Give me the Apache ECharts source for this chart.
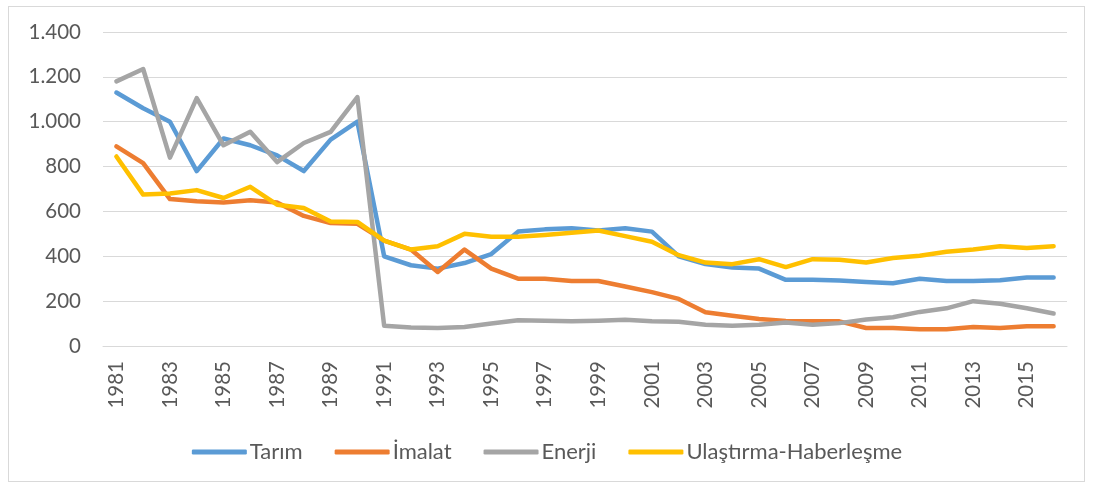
<!DOCTYPE html>
<html>
<head>
<meta charset="utf-8">
<script src="https://cdn.jsdelivr.net/npm/echarts@6/dist/echarts.min.js"></script>
<style>
html, body { margin: 0; padding: 0; background: #fff; }
#chart { width: 1094px; height: 489px; }
#frame { position: absolute; left: 8px; top: 6px; width: 1077px; height: 476px; border: 1px solid #d9d9d9; box-sizing: border-box; pointer-events: none; }
</style>
</head>
<body>
<div id="chart"></div>
<div id="frame"></div>
<script>
// yıllar
var years = [];
for (var y = 1981; y <= 2016; y++) years.push(String(y));

var tarim = [1130, 1060, 1000, 780, 925, 895, 850, 780, 920, 1000,
	400, 360, 345, 370, 410, 510, 520, 525, 515, 525,
	510, 400, 365, 350, 345, 295, 295, 292, 285, 280,
	300, 290, 290, 293, 305, 305];
var imalat = [890, 815, 655, 645, 640, 650, 640, 580, 548, 545,
	470, 430, 330, 430, 345, 300, 300, 290, 290, 265,
	240, 210, 150, 135, 120, 112, 110, 110, 80, 80,
	75, 75, 85, 80, 88, 88];
var enerji = [1180, 1235, 840, 1105, 895, 955, 820, 905, 955, 1110,
	90, 82, 80, 85, 100, 115, 113, 110, 113, 117,
	110, 108, 95, 90, 95, 105, 95, 102, 118, 128,
	152, 168, 200, 188, 168, 145];
var ulastirma = [845, 675, 680, 695, 660, 710, 630, 615, 555, 553,
	470, 430, 445, 500, 487, 487, 495, 505, 515, 490,
	465, 405, 372, 365, 387, 352, 387, 385, 372, 392,
	402, 420, 430, 445, 437, 445];

var seriesNames = ['Tarım', 'İmalat', 'Enerji', 'Ulaştırma-Haberleşme'];
var colors = ['#5B9BD5', '#ED7D31', '#A5A5A5', '#FFC000'];
var dataList = [tarim, imalat, enerji, ulastirma];

var font = 'Lato, "Open Sans", sans-serif';

var series = [];
for (var i = 0; i < dataList.length; i++) {
	series.push({
		name: seriesNames[i],
		type: 'line',
		data: dataList[i],
		symbol: 'none',
		lineStyle: { width: 4.5, color: colors[i], cap: 'round', join: 'round' },
		itemStyle: { color: colors[i] }
	});
}

var chart = echarts.init(document.getElementById('chart'));
chart.setOption({
	animation: false,
	color: colors,
	grid: { left: 103, right: 27, top: 32, bottom: 143 },
	legend: {
		top: 436,
		left: 'center',
		icon: 'roundRect',
		itemWidth: 55,
		itemHeight: 5,
		itemGap: 32,
		textStyle: { color: '#595959', fontSize: 22, fontFamily: font, padding: [0, 0, 0, -2] },
		data: seriesNames
	},
	xAxis: {
		type: 'category',
		data: years,
		boundaryGap: true,
		axisLine: { show: true, lineStyle: { color: '#d9d9d9', width: 1 } },
		axisTick: { show: false },
		axisLabel: {
			interval: 1,
			rotate: 90,
			color: '#595959',
			fontSize: 20.5,
			fontFamily: font,
			margin: 15
		}
	},
	yAxis: {
		type: 'value',
		min: 0,
		max: 1400,
		interval: 200,
		axisLine: { show: false },
		axisTick: { show: false },
		splitLine: { lineStyle: { color: '#d9d9d9', width: 1 } },
		axisLabel: {
			color: '#595959',
			fontSize: 20.5,
			fontFamily: font,
			margin: 22,
			formatter: function(v) {
				return String(v).replace(/\B(?=(\d{3})+(?!\d))/g, '.');
			}
		}
	},
	series: series
});
</script>
</body>
</html>
